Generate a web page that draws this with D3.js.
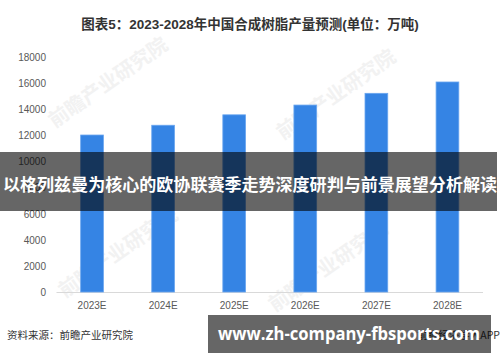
<!DOCTYPE html>
<html><head><meta charset="utf-8">
<script src="https://cdn.jsdelivr.net/npm/d3@7"></script>
<style>body{margin:0;background:#fff}svg{display:block}</style>
</head><body>
<script>
const categories = ["2023E","2024E","2025E","2026E","2027E","2028E"];
const values = [12050, 12800, 13600, 14350, 15250, 16120];
const yTicks = [0,2000,4000,6000,8000,10000,12000,14000,16000,18000];
const titleText = "图表5：2023-2028年中国合成树脂产量预测(单位：万吨)";
const sourceText = "资料来源：前瞻产业研究院";
const bannerText = "以格列兹曼为核心的欧协联赛季走势深度研判与前景展望分析解读";
const siteText = "www.zh-company-fbsports.com";
const appText = "前瞻经济学人APP";
const watermarkText = "前瞻产业研究院";

const W = 500, H = 362;
const svg = d3.select("body").append("svg").attr("width", W).attr("height", H);
const font = "'Liberation Sans', Arial, 'Noto Sans CJK SC', sans-serif";

const x = d3.scaleBand().domain(categories).range([56.5, 483]).paddingInner(0.68).paddingOuter(0.34);
const y = d3.scaleLinear().domain([0, 18000]).range([292, 57.5]);

// watermarks
const wm = [[112,88],[340,100],[122,258],[332,272]];
wm.forEach(([cx,cy]) => {
  svg.append("text").attr("transform", `translate(${cx},${cy}) rotate(-35)`)
    .attr("text-anchor","middle").attr("font-family","'Noto Sans CJK SC', sans-serif")
    .attr("font-size",20).attr("font-weight","bold").attr("fill","#f2f2f2").text(watermarkText);
});

// title
svg.append("text").attr("x", 250).attr("y", 29).attr("text-anchor","middle")
  .attr("font-family", font).attr("font-size", 13.5).attr("font-weight","bold")
  .attr("fill","#333").text(titleText);

// y axis
const yAxis = d3.axisLeft(y).tickValues(yTicks).tickSize(0).tickPadding(0).tickFormat(d3.format("d"));
const gy = svg.append("g").attr("transform","translate(46,0)").call(yAxis);
gy.select(".domain").remove();
gy.selectAll("text").attr("font-family", font).attr("font-size", 10).attr("fill","#595959");

// x axis
const xAxis = d3.axisBottom(x).tickSize(0).tickPadding(10);
const gx = svg.append("g").attr("transform","translate(0,292)").call(xAxis);
gx.select(".domain").attr("stroke","#d9d9d9").attr("d","M56.5,0.5H483");
gx.selectAll("text").attr("font-family", font).attr("font-size", 10).attr("fill","#595959");

// bars
svg.append("g").selectAll("rect").data(values).join("rect")
  .attr("x", (d,i) => x(categories[i]))
  .attr("y", d => y(d))
  .attr("width", x.bandwidth())
  .attr("height", d => y(0) - y(d))
  .attr("fill", "#3584e4").attr("stroke","#6aa6ef").attr("stroke-width",0.8);

// source
svg.append("text").attr("x", 7).attr("y", 339).attr("font-family","'Noto Sans CJK SC', sans-serif")
  .attr("font-size", 10.5).attr("fill","#333").text(sourceText);
svg.append("text").attr("x", 500).attr("y", 339).attr("text-anchor","end")
  .attr("font-family","'Noto Sans CJK SC', sans-serif")
  .attr("font-size", 10.5).attr("fill","#333").text(appText);

// overlay banner
svg.append("rect").attr("x",0).attr("y",152).attr("width",497).attr("height",59).attr("fill","rgba(0,0,0,0.6)");
svg.append("text").attr("x", 250).attr("y", 186).attr("text-anchor","middle").attr("dominant-baseline","middle")
  .attr("font-family","'Noto Sans CJK SC', sans-serif").attr("font-size", 16.6).attr("font-weight","bold")
  .attr("textLength", 494).attr("lengthAdjust","spacingAndGlyphs")
  .attr("fill","#fff").text(bannerText);

// site banner
svg.append("rect").attr("x",208).attr("y",315).attr("width",283).attr("height",38).attr("fill","rgba(0,0,0,0.6)");
svg.append("text").attr("x", 349).attr("y", 335).attr("text-anchor","middle").attr("dominant-baseline","middle")
  .attr("font-family","'Open Sans', 'DejaVu Sans', sans-serif").attr("font-size", 17.5).attr("font-weight","bold")
  .attr("textLength", 262).attr("lengthAdjust","spacingAndGlyphs")
  .attr("fill","#fff").text(siteText);
</script>
</body></html>
